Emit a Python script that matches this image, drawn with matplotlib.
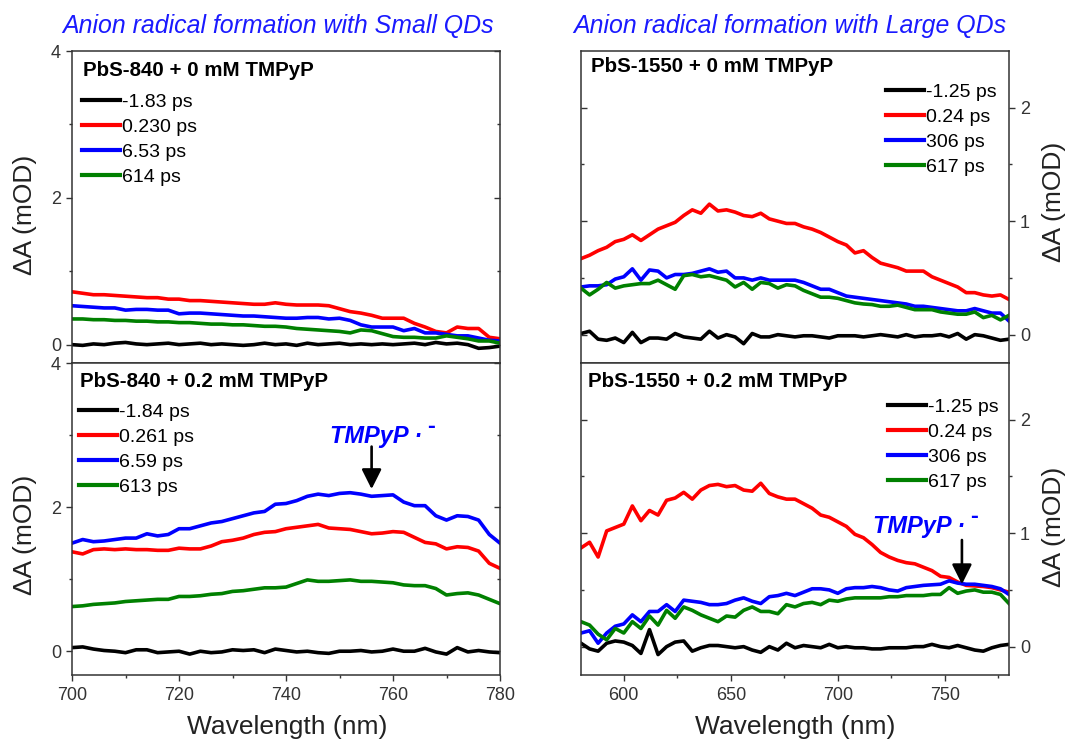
import matplotlib
matplotlib.use("Agg")
import matplotlib.pyplot as plt
import numpy as np

plt.rcParams['font.family'] = ['Liberation Sans', 'DejaVu Sans']

# ---------------- data ----------------
wl_small = list(range(700, 781, 2))
wl_large = list(range(580, 781, 4))

small0_labels = ["-1.83 ps", "0.230 ps", "6.53 ps", "614 ps"]
small0_black = [0.00, -0.01, 0.01, 0.00, 0.02, 0.03, 0.01, 0.00, 0.01, 0.02, 0.00, 0.01, 0.02, 0.00, 0.01,
                0.00, -0.01, 0.00, 0.02, 0.00, 0.01, -0.01, 0.02, 0.00, 0.01, 0.02, 0.00, 0.01, 0.00, 0.01,
                0.00, 0.01, 0.02, 0.00, 0.03, 0.01, 0.02, 0.00, -0.05, -0.04, -0.02]
small0_red = [0.72, 0.70, 0.68, 0.68, 0.67, 0.66, 0.65, 0.64, 0.64, 0.62, 0.62, 0.60, 0.60, 0.59, 0.58,
              0.57, 0.56, 0.55, 0.55, 0.57, 0.55, 0.54, 0.54, 0.54, 0.53, 0.49, 0.45, 0.43, 0.40, 0.36,
              0.36, 0.36, 0.29, 0.24, 0.18, 0.16, 0.24, 0.22, 0.22, 0.10, 0.08]
small0_blue = [0.53, 0.52, 0.51, 0.50, 0.50, 0.47, 0.48, 0.48, 0.47, 0.47, 0.42, 0.43, 0.43, 0.42, 0.41,
               0.40, 0.39, 0.39, 0.38, 0.37, 0.36, 0.36, 0.37, 0.37, 0.35, 0.36, 0.33, 0.27, 0.24, 0.24,
               0.24, 0.19, 0.22, 0.16, 0.16, 0.14, 0.12, 0.12, 0.09, 0.06, 0.05]
small0_green = [0.35, 0.35, 0.34, 0.34, 0.33, 0.33, 0.32, 0.32, 0.31, 0.31, 0.30, 0.30, 0.29, 0.28, 0.28,
                0.27, 0.27, 0.26, 0.25, 0.25, 0.24, 0.22, 0.21, 0.20, 0.19, 0.18, 0.16, 0.20, 0.19, 0.15,
                0.11, 0.10, 0.10, 0.09, 0.09, 0.12, 0.10, 0.08, 0.05, 0.05, 0.02]

small2_labels = ["-1.84 ps", "0.261 ps", "6.59 ps", "613 ps"]
small2_black = [0.05, 0.06, 0.03, 0.01, 0.00, -0.02, 0.02, 0.02, -0.02, -0.01, 0.00, -0.04, 0.00, -0.02, -0.01,
                0.02, 0.01, 0.02, -0.02, 0.03, 0.01, -0.01, 0.00, -0.02, -0.03, 0.00, 0.00, 0.01, -0.01, 0.00,
                0.03, 0.00, 0.00, 0.04, -0.01, -0.04, 0.05, -0.01, 0.01, -0.01, -0.02]
small2_red = [1.38, 1.35, 1.41, 1.42, 1.41, 1.42, 1.41, 1.41, 1.40, 1.40, 1.43, 1.42, 1.42, 1.46, 1.52,
              1.54, 1.57, 1.62, 1.65, 1.66, 1.70, 1.72, 1.74, 1.76, 1.71, 1.70, 1.69, 1.66, 1.63, 1.64,
              1.66, 1.65, 1.58, 1.51, 1.49, 1.42, 1.45, 1.44, 1.39, 1.22, 1.15]
small2_blue = [1.50, 1.55, 1.52, 1.53, 1.55, 1.57, 1.57, 1.63, 1.60, 1.62, 1.70, 1.70, 1.74, 1.78, 1.80,
               1.84, 1.88, 1.92, 1.94, 2.04, 2.05, 2.09, 2.15, 2.18, 2.16, 2.19, 2.20, 2.18, 2.15, 2.16,
               2.17, 2.07, 2.02, 2.02, 1.88, 1.82, 1.88, 1.87, 1.82, 1.62, 1.50]
small2_green = [0.62, 0.63, 0.65, 0.66, 0.67, 0.69, 0.70, 0.71, 0.72, 0.72, 0.76, 0.76, 0.77, 0.79, 0.80,
                0.83, 0.84, 0.86, 0.88, 0.88, 0.89, 0.94, 0.99, 0.97, 0.97, 0.98, 0.99, 0.97, 0.97, 0.96,
                0.95, 0.92, 0.91, 0.91, 0.87, 0.78, 0.80, 0.81, 0.78, 0.72, 0.66]

large0_labels = ["-1.25 ps", "0.24 ps", "306 ps", "617 ps"]
large0_black = [0.01, 0.03, -0.04, -0.05, -0.03, -0.07, 0.02, -0.07, -0.03, -0.03, -0.04, 0.01, -0.02,
                -0.03, -0.04, 0.03, -0.03, 0.00, -0.02, -0.08, 0.01, -0.02, -0.02, 0.00, -0.01, -0.02,
                -0.01, -0.01, -0.02, -0.03, -0.01, -0.01, -0.01, -0.02, -0.01, 0.00, -0.01, -0.02, 0.00,
                -0.02, -0.01, -0.01, 0.00, -0.02, 0.01, -0.04, 0.00, -0.01, -0.03, -0.05, -0.04]
large0_red = [0.67, 0.70, 0.74, 0.77, 0.82, 0.84, 0.88, 0.83, 0.88, 0.93, 0.96, 0.99, 1.05, 1.10, 1.07,
              1.15, 1.09, 1.10, 1.08, 1.05, 1.04, 1.07, 1.02, 1.00, 0.98, 0.98, 0.95, 0.93, 0.90, 0.86,
              0.82, 0.79, 0.72, 0.74, 0.68, 0.63, 0.61, 0.59, 0.56, 0.56, 0.56, 0.51, 0.48, 0.45, 0.42,
              0.37, 0.37, 0.35, 0.34, 0.35, 0.31]
large0_blue = [0.42, 0.43, 0.43, 0.44, 0.49, 0.51, 0.58, 0.48, 0.57, 0.56, 0.50, 0.53, 0.53, 0.54, 0.56,
               0.58, 0.55, 0.56, 0.50, 0.50, 0.48, 0.50, 0.48, 0.48, 0.48, 0.48, 0.46, 0.43, 0.40, 0.40,
               0.37, 0.34, 0.33, 0.32, 0.31, 0.30, 0.29, 0.28, 0.27, 0.25, 0.25, 0.24, 0.23, 0.22, 0.21,
               0.21, 0.23, 0.21, 0.19, 0.19, 0.12]
large0_green = [0.41, 0.35, 0.40, 0.46, 0.41, 0.43, 0.44, 0.45, 0.45, 0.48, 0.44, 0.40, 0.52, 0.53, 0.51,
                0.52, 0.50, 0.48, 0.42, 0.46, 0.40, 0.46, 0.45, 0.41, 0.44, 0.43, 0.39, 0.36, 0.33, 0.33,
                0.32, 0.30, 0.28, 0.27, 0.265, 0.25, 0.25, 0.26, 0.24, 0.22, 0.22, 0.22, 0.20, 0.19, 0.18,
                0.18, 0.20, 0.15, 0.17, 0.13, 0.17]

large2_labels = ["-1.25 ps", "0.24 ps", "306 ps", "617 ps"]
large2_black = [0.03, -0.02, -0.04, 0.03, 0.05, 0.04, 0.01, -0.06, 0.15, -0.07, 0.00, 0.04, 0.05, -0.04,
                -0.01, 0.01, 0.01, 0.00, -0.01, 0.00, -0.03, -0.05, 0.00, -0.03, 0.03, -0.01, 0.01, 0.00,
                -0.01, 0.02, -0.01, 0.00, -0.01, -0.01, -0.02, -0.02, -0.01, -0.01, -0.01, 0.00, 0.00,
                0.02, 0.00, -0.01, 0.01, -0.01, -0.03, -0.04, -0.01, 0.01, 0.02]
large2_red = [0.87, 0.92, 0.79, 1.02, 1.05, 1.08, 1.24, 1.11, 1.20, 1.16, 1.29, 1.31, 1.36, 1.30, 1.38,
              1.42, 1.43, 1.41, 1.42, 1.38, 1.37, 1.44, 1.35, 1.32, 1.30, 1.30, 1.26, 1.22, 1.16, 1.14,
              1.10, 1.06, 0.99, 0.96, 0.90, 0.83, 0.79, 0.76, 0.74, 0.73, 0.70, 0.67, 0.62, 0.61, 0.57,
              0.54, 0.535, 0.53, 0.52, 0.50, 0.48]
large2_blue = [0.12, 0.14, 0.03, 0.12, 0.18, 0.20, 0.28, 0.22, 0.31, 0.31, 0.37, 0.31, 0.41, 0.40, 0.39,
               0.37, 0.37, 0.38, 0.41, 0.43, 0.40, 0.38, 0.44, 0.45, 0.47, 0.45, 0.48, 0.51, 0.51, 0.50,
               0.47, 0.51, 0.52, 0.52, 0.53, 0.52, 0.50, 0.49, 0.52, 0.53, 0.54, 0.545, 0.55, 0.58, 0.56,
               0.55, 0.55, 0.54, 0.53, 0.51, 0.46]
large2_green = [0.22, 0.19, 0.11, 0.06, 0.16, 0.12, 0.22, 0.16, 0.27, 0.19, 0.32, 0.25, 0.35, 0.32, 0.28,
                0.25, 0.22, 0.27, 0.26, 0.32, 0.35, 0.31, 0.31, 0.29, 0.37, 0.35, 0.38, 0.39, 0.37, 0.41,
                0.40, 0.42, 0.43, 0.43, 0.43, 0.43, 0.44, 0.44, 0.45, 0.45, 0.45, 0.46, 0.46, 0.52, 0.47,
                0.49, 0.50, 0.48, 0.48, 0.46, 0.38]

colors = ['black', '#ff0000', '#0000ff', '#008000']

W, H = 1092, 743
fig = plt.figure(figsize=(W / 100, H / 100), dpi=100)


def fx(px):
    return px / W


def fy(py):
    return 1 - py / H


def add_ax(x0, x1, y0, y1):
    return fig.add_axes([fx(x0), fy(y1), fx(x1) - fx(x0), fy(y0) - fy(y1)])


TXT = '#222222'
TICKLAB = '#333333'


def style(ax, side, show_x):
    for s in ax.spines.values():
        s.set_color('#333333')
        s.set_linewidth(1.1)
    ax.tick_params(axis='both', which='major', length=4, width=1.0, color='#333333',
                   labelsize=13, labelcolor=TICKLAB)
    ax.tick_params(axis='both', which='minor', length=2.5, width=1.0, color='#333333')
    ax.tick_params(axis='x', direction='out', top=False, bottom=show_x, labelbottom=show_x, pad=5)
    if side == 'left':
        ax.tick_params(axis='y', which='both', direction='out', left=True, right=False,
                       labelleft=True, labelright=False, pad=4)
        sec = ax.secondary_yaxis('right')
    else:
        ax.yaxis.tick_right()
        ax.tick_params(axis='y', which='both', direction='out', left=False, right=True,
                       labelleft=False, labelright=True, pad=4)
        sec = ax.secondary_yaxis('left')
    sec.set_yticks(ax.get_yticks())
    sec.set_yticks(ax.get_yticks(minor=True), minor=True)
    sec.tick_params(which='major', direction='in', length=4, width=1.0, color='#333333')
    sec.tick_params(which='minor', direction='in', length=2.5, width=1.0, color='#333333')
    sec.set_yticklabels([])
    sec.spines[:].set_visible(False)


def draw(ax, wl, series, labels, leg_xy, title, title_xy):
    for ys, c, lab in zip(series, colors, labels):
        ax.plot(wl, ys, color=c, lw=2.6, label=lab)
    leg = ax.legend(loc='upper left', bbox_to_anchor=(fx(leg_xy[0]), fy(leg_xy[1])),
                    bbox_transform=fig.transFigure, frameon=False, fontsize=14,
                    handlelength=1.95, handletextpad=0.1, labelspacing=0.38, borderpad=0,
                    borderaxespad=0)
    for h in leg.get_lines():
        h.set_linewidth(3.0)
    fig.text(fx(title_xy[0]), fy(title_xy[1]), title, fontsize=14.8, fontweight='bold',
             color='black', ha='left', va='center')


# left column
axL1 = add_ax(72, 500, 51, 363)
axL2 = add_ax(72, 500, 363, 675)
for ax, lo in ((axL1, -0.25), (axL2, -0.33)):
    ax.set_xlim(700, 780)
    ax.set_ylim(lo, 4)
    ax.set_xticks([700, 720, 740, 760, 780])
    ax.set_xticks([710, 730, 750, 770], minor=True)
    ax.set_yticks([0, 2, 4])
    ax.set_yticks([1, 3], minor=True)

draw(axL1, wl_small, [small0_black, small0_red, small0_blue, small0_green], small0_labels,
     (82, 93), 'PbS-840 + 0 mM TMPyP', (83, 71))
draw(axL2, wl_small, [small2_black, small2_red, small2_blue, small2_green], small2_labels,
     (79, 403), 'PbS-840 + 0.2 mM TMPyP', (80, 382))
style(axL1, 'left', False)
style(axL2, 'left', True)

# right column
axR1 = add_ax(581, 1009, 51, 363)
axR2 = add_ax(581, 1009, 363, 675)
for ax in (axR1, axR2):
    ax.set_xlim(580, 780)
    ax.set_ylim(-0.25, 2.5)
    ax.set_xticks([600, 650, 700, 750])
    ax.set_xticks([625, 675, 725, 775], minor=True)
    ax.set_yticks([0, 1, 2])
    ax.set_yticks([0.5, 1.5], minor=True)

draw(axR1, wl_large, [large0_black, large0_red, large0_blue, large0_green], large0_labels,
     (886, 83), 'PbS-1550 + 0 mM TMPyP', (591, 67))
draw(axR2, wl_large, [large2_black, large2_red, large2_blue, large2_green], large2_labels,
     (888, 398), 'PbS-1550 + 0.2 mM TMPyP', (588, 382))
style(axR1, 'right', False)
style(axR2, 'right', True)

# annotations
ARW = dict(arrowstyle='-|>', lw=1.9, color='black', mutation_scale=30, shrinkA=0, shrinkB=0)
axL2.annotate('', xy=(756, 2.25), xytext=(756, 2.84), arrowprops=ARW)
axR2.annotate('', xy=(758, 0.55), xytext=(758, 0.94), arrowprops=ARW)
for x0, yc in ((330, 437), (873, 527)):
    fig.text(fx(x0), fy(yc), 'TMPyP ·', fontsize=17, fontweight='bold', style='italic',
             color='#0000ff', ha='left', va='center')
    fig.text(fx(x0 + 97), fy(yc - 10), '-', fontsize=17, fontweight='bold',
             color='#0000ff', ha='left', va='center')

# titles
fig.text(fx(278), fy(26), 'Anion radical formation with Small QDs', fontsize=17.9,
         style='italic', color='#1a1aff', ha='center', va='center')
fig.text(fx(790), fy(26), 'Anion radical formation with Large QDs', fontsize=17.9,
         style='italic', color='#1a1aff', ha='center', va='center')

# axis labels
for x, y in ((25, 215), (25, 535)):
    fig.text(fx(x), fy(y), 'ΔA (mOD)', fontsize=19, rotation=90, ha='center', va='center', color=TXT)
for x, y in ((1054, 202), (1054, 527)):
    fig.text(fx(x), fy(y), 'ΔA (mOD)', fontsize=19, rotation=90, ha='center', va='center', color=TXT)
fig.text(fx(287), fy(727), 'Wavelength (nm)', fontsize=19, ha='center', va='center', color=TXT)
fig.text(fx(795), fy(727), 'Wavelength (nm)', fontsize=19, ha='center', va='center', color=TXT)

fig.savefig('out.png', dpi=100)
